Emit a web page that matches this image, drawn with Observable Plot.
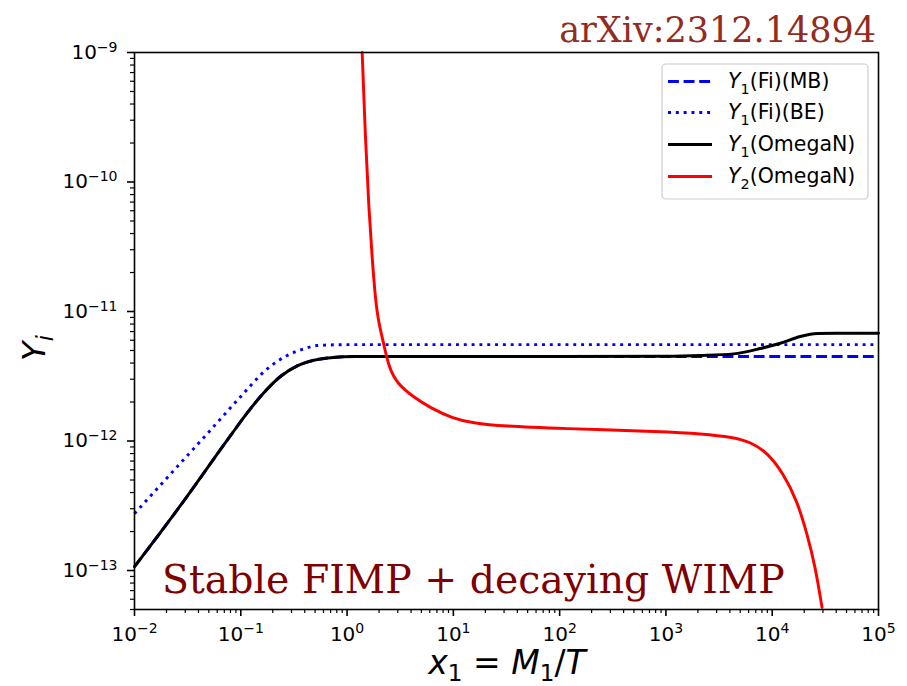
<!DOCTYPE html>
<html><head><meta charset="utf-8">
<script src="https://cdn.jsdelivr.net/npm/d3@7"></script>
<script src="https://cdn.jsdelivr.net/npm/@observablehq/plot@0.6"></script>
<style>
body{margin:0;background:#fff}
#chart{position:relative;width:907px;height:686px}
</style>
</head><body><div id="chart"></div>
<script>
// ---- tick labels ----
const xMajor = [1e-2, 1e-1, 1e0, 1e1, 1e2, 1e3, 1e4, 1e5];
const yMajor = [1e-13, 1e-12, 1e-11, 1e-10, 1e-9];
const xMinor = [];
for (let k = -2; k < 5; k++) for (let j = 2; j <= 9; j++) xMinor.push(j * Math.pow(10, k));
const yMinor = [];
for (let k = -14; k < -9; k++) for (let j = 2; j <= 9; j++) { const v = j * Math.pow(10, k); if (v >= 5e-14 && v <= 1e-9) yMinor.push(v); }

// ---- series ----
const seriesNames = ["Y1(Fi)(MB)", "Y1(Fi)(BE)", "Y1(OmegaN)", "Y2(OmegaN)"];

const mbX = [0.01, 0.0271, 0.080, 0.115, 0.164, 0.236, 0.34, 0.486, 0.70, 1.2, 1e5];
const mbY = [1.07e-13, 3.18e-13, 1.10e-12, 1.65e-12, 2.35e-12, 3.15e-12, 3.8e-12, 4.2e-12, 4.4e-12, 4.5e-12, 4.5e-12];

const beX = [0.01, 0.0226, 0.0466, 0.0957, 0.177, 0.273, 0.392, 0.524, 0.655, 1.0, 1e5];
const beY = [2.75e-13, 5.74e-13, 1.1e-12, 2.12e-12, 3.6e-12, 4.57e-12, 5.15e-12, 5.46e-12, 5.51e-12, 5.55e-12, 5.55e-12];

const om1X = [0.01, 0.0271, 0.080, 0.115, 0.164, 0.236, 0.34, 0.486, 0.70, 1.2, 10, 100, 1000, 2110, 4320, 7740, 1.19e4, 1.84e4, 2.66e4, 4e4, 1e5];
const om1Y = [1.07e-13, 3.18e-13, 1.10e-12, 1.65e-12, 2.35e-12, 3.15e-12, 3.8e-12, 4.2e-12, 4.4e-12, 4.5e-12, 4.5e-12, 4.5e-12, 4.52e-12, 4.58e-12, 4.71e-12, 5.18e-12, 5.69e-12, 6.41e-12, 6.76e-12, 6.8e-12, 6.8e-12];

const om2X = [1.387, 1.49, 1.60, 1.72, 1.85, 1.99, 2.21, 2.47, 2.96, 4.24, 6.1, 9.8, 15, 30, 99.6, 990, 2110, 4345, 6237, 8954, 1.28e4, 1.71e4, 2.13e4, 2.55e4, 2.94e4];
const om2Y = [1.0e-9, 2.09e-10, 6.4e-11, 2.62e-11, 1.22e-11, 8.07e-12, 5.66e-12, 3.71e-12, 2.77e-12, 2.18e-12, 1.8e-12, 1.5e-12, 1.38e-12, 1.3e-12, 1.25e-12, 1.18e-12, 1.14e-12, 1.07e-12, 9.8e-13, 8.2e-13, 5.58e-13, 3.47e-13, 1.92e-13, 1.06e-13, 5.2e-14];

const toRows = (xs, ys) => xs.map((x, i) => ({x, y: ys[i]}));
const mb = toRows(mbX, mbY), be = toRows(beX, beY), om1 = toRows(om1X, om1Y), om2 = toRows(om2X, om2Y);

const fmt = d => "10^" + Math.round(Math.log10(d));
const LW = 2.95;

const plot = Plot.plot({
  width: 907, height: 686,
  marginLeft: 134, marginRight: 29, marginTop: 52, marginBottom: 77,
  style: {fontFamily: "DejaVu Sans", fontSize: "20px", color: "black", background: "white", overflow: "visible"},
  x: {type: "log", domain: [1e-2, 1e5], axis: null},
  y: {type: "log", domain: [5e-14, 1e-9], axis: null},
  marks: [
    Plot.line(mb, {x: "x", y: "y", stroke: "#0000ff", strokeWidth: LW, strokeDasharray: "10.9,4.7", strokeLinecap: "butt", curve: "monotone-x"}),
    Plot.line(be, {x: "x", y: "y", stroke: "#0000ff", strokeWidth: LW, strokeDasharray: "2.95,4.87", strokeLinecap: "butt", curve: "monotone-x"}),
    Plot.line(om1, {x: "x", y: "y", stroke: "#000000", strokeWidth: LW, curve: "monotone-x"}),
    Plot.line(om2, {x: "x", y: "y", stroke: "#ff0000", strokeWidth: LW, curve: "basis"}),
    Plot.axisX({ticks: xMinor, tickSize: 4, tickFormat: () => "", label: null, strokeWidth: 1.2}),
    Plot.axisY({ticks: yMinor, tickSize: 4, tickFormat: () => "", label: null, strokeWidth: 1.2}),
    Plot.axisX({ticks: xMajor, tickSize: 7, tickPadding: 10, tickFormat: fmt, label: null, strokeWidth: 1.6, fontSize: 20}),
    Plot.axisY({ticks: yMajor, tickSize: 7, tickPadding: 10, tickFormat: fmt, label: null, strokeWidth: 1.6, fontSize: 20}),
    Plot.frame({stroke: "black", strokeWidth: 1.6})
  ]
});

// superscript tick labels
plot.querySelectorAll("text").forEach(t => {
  const m = /^10\^(-?\d+)$/.exec(t.textContent);
  if (!m) return;
  t.textContent = "";
  t.setAttribute("font-size", "20");
  t.setAttribute("font-family", "DejaVu Sans");
  const ns = "http://www.w3.org/2000/svg";
  const a = document.createElementNS(ns, "tspan"); a.textContent = "10"; a.setAttribute("font-size", "20"); t.appendChild(a);
  const b = document.createElementNS(ns, "tspan"); b.textContent = m[1].replace("-", "\u2212");
  b.setAttribute("dy", "-7.4"); b.setAttribute("font-size", "14"); t.appendChild(b);
});

document.getElementById("chart").appendChild(plot);
const svg = d3.select(plot);

function mathText(sel, parts, fs, subShift) {
  let shifted = 0;
  parts.forEach(([t, st]) => {
    const ts = sel.append("tspan").text(t);
    const want = st.includes("s") ? fs * subShift : 0;
    ts.attr("dy", want - shifted); shifted = want;
    if (st.includes("i")) ts.attr("font-style", "italic");
    if (st.includes("s")) ts.attr("font-size", fs * 0.7);
  });
}

// axis labels
const xl = svg.append("text").attr("x", 507).attr("y", 674).attr("text-anchor", "middle")
  .attr("font-family", "DejaVu Sans").attr("font-size", 33).attr("fill", "black");
mathText(xl, [["x", "i"], ["1", "s"], [" = ", "n"], ["M", "i"], ["1", "s"], ["/", "n"], ["T", "i"]], 33, 0.2);
const yl = svg.append("text").attr("transform", "translate(45,348) rotate(-90)").attr("text-anchor", "middle")
  .attr("font-family", "DejaVu Sans").attr("font-size", 32).attr("fill", "black");
mathText(yl, [["Y", "i"], ["i", "is"]], 32, 0.25);

// annotations
svg.append("text").attr("x", 876).attr("y", 42).attr("text-anchor", "end")
  .attr("font-family", "DejaVu Serif").attr("font-size", 35).attr("fill", "#922b21").text("arXiv:2312.14894");
svg.append("text").attr("x", 162).attr("y", 593).attr("text-anchor", "start")
  .attr("font-family", "DejaVu Serif").attr("font-size", 39.4).attr("fill", "#800000").text("Stable FIMP + decaying WIMP");

// legend
const lg = svg.append("g");
lg.append("rect").attr("x", 662).attr("y", 64).attr("width", 206).attr("height", 135).attr("rx", 4)
  .attr("fill", "white").attr("fill-opacity", 0.8).attr("stroke", "#cccccc").attr("stroke-width", 1.2);
const legendStyles = [
  {stroke: "#0000ff", dash: "10.9,4.7", sub: "1", rest: "(Fi)(MB)"},
  {stroke: "#0000ff", dash: "2.95,4.87", sub: "1", rest: "(Fi)(BE)"},
  {stroke: "#000000", dash: null, sub: "1", rest: "(OmegaN)"},
  {stroke: "#ff0000", dash: null, sub: "2", rest: "(OmegaN)"}
];
const rowY = [81.5, 112.5, 144.5, 176.5];
legendStyles.forEach((s, i) => {
  const y = rowY[i];
  const ln = lg.append("line").attr("x1", 668).attr("x2", 712).attr("y1", y).attr("y2", y)
    .attr("stroke", s.stroke).attr("stroke-width", LW);
  if (s.dash) ln.attr("stroke-dasharray", s.dash);
  const t = lg.append("text").attr("x", 728).attr("y", y + 6.7).attr("text-anchor", "start").attr("font-family", "DejaVu Sans")
    .attr("font-size", 20.5).attr("fill", "black").attr("aria-label", seriesNames[i]);
  mathText(t, [["Y", "i"], [s.sub, "s"], [s.rest, "n"]], 20.5, 0.3);
});
</script>
</body></html>
